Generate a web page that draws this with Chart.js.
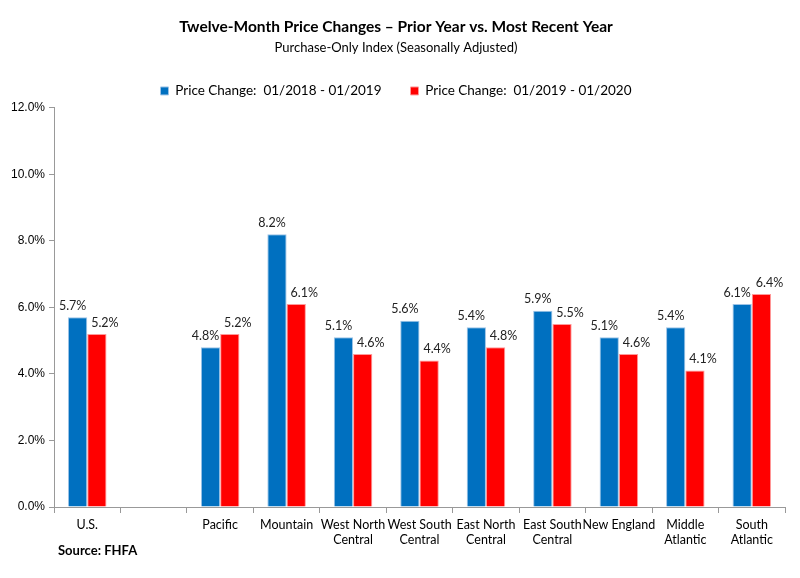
<!DOCTYPE html>
<html>
<head>
<meta charset="utf-8">
<script src="https://cdn.jsdelivr.net/npm/chart.js@4"></script>
<style>
  html, body { margin: 0; padding: 0; background: #fff; }
  #wrap { width: 800px; height: 578px; position: relative; }
</style>
</head>
<body>
<div id="wrap"><canvas id="bars"></canvas></div>
<script>
const regions = [['U.S.'], [''], ['Pacific'], ['Mountain'], ['West North', 'Central'], ['West South', 'Central'],
  ['East North', 'Central'], ['East South', 'Central'], ['New England'], ['Middle', 'Atlantic'], ['South', 'Atlantic']];
const change2019 = [5.7, null, 4.8, 8.2, 5.1, 5.6, 5.4, 5.9, 5.1, 5.4, 6.1];
const change2020 = [5.2, null, 5.2, 6.1, 4.6, 4.4, 4.8, 5.5, 4.6, 4.1, 6.4];
const yTicks = [0, 2, 4, 6, 8, 10, 12];

const calibri = 'Lato, "Open Sans", sans-serif';

// value labels above each bar, nudged left for blue and right for red
const barLabels = {
  id: 'barLabels',
  afterDatasetsDraw(chart) {
    const ctx = chart.ctx;
    ctx.save();
    ctx.font = '12.5px ' + calibri;
    ctx.fillStyle = '#222';
    ctx.textAlign = 'center';
    ctx.textBaseline = 'bottom';
    chart.data.datasets.forEach((ds, i) => {
      const shift = i === 0 ? -5 : 8;
      chart.getDatasetMeta(i).data.forEach((bar, j) => {
        if (ds.data[j] == null) return;
        ctx.fillText(ds.data[j].toFixed(1) + '%', bar.x + shift, bar.y - 5);
      });
    });
    ctx.restore();
  }
};

const sourceNote = {
  id: 'sourceNote',
  afterDraw(chart) {
    const ctx = chart.ctx;
    ctx.save();
    ctx.font = 'bold 13px ' + calibri;
    ctx.fillStyle = '#000';
    ctx.textBaseline = 'middle';
    ctx.fillText('Source: FHFA', 58, 551);
    ctx.restore();
  }
};

new Chart(document.getElementById('bars'), {
  type: 'bar',
  data: {
    labels: regions,
    datasets: [{
      label: 'Price Change:  01/2018 - 01/2019',
      data: change2019,
      backgroundColor: '#0070C0',
      borderColor: '#9DC3E6',
      borderWidth: 1
    }, {
      label: 'Price Change:  01/2019 - 01/2020',
      data: change2020,
      backgroundColor: '#FF0000',
      borderColor: '#FF9999',
      borderWidth: 1
    }]
  },
  options: {
    responsive: true,
    maintainAspectRatio: false,
    animation: false,
    layout: { padding: { left: 7, right: 15, bottom: 27 } },
    datasets: { bar: { categoryPercentage: 0.58, barPercentage: 1 } },
    plugins: {
      title: {
        display: true,
        text: 'Twelve-Month Price Changes – Prior Year vs. Most Recent Year',
        color: '#000',
        font: { family: calibri, size: 15.5, weight: 'bold' },
        padding: { top: 18, bottom: 3 }
      },
      subtitle: {
        display: true,
        text: 'Purchase-Only Index (Seasonally Adjusted)',
        color: '#000',
        font: { family: calibri, size: 13 },
        padding: { bottom: 0 }
      },
      legend: {
        labels: {
          boxWidth: 8,
          boxHeight: 8,
          padding: 29,
          color: '#000',
          font: { family: calibri, size: 13.5 }
        }
      },
      tooltip: { enabled: false }
    },
    scales: {
      x: {
        border: { color: '#999' },
        grid: { offset: true, drawOnChartArea: false, tickLength: 6, color: '#999' },
        ticks: {
          color: '#000',
          font: { family: calibri, size: 12.5 },
          padding: 4,
          maxRotation: 0,
          minRotation: 0,
          autoSkip: false
        }
      },
      y: {
        min: 0,
        max: 12,
        border: { color: '#999' },
        grid: { drawOnChartArea: false, tickLength: 5, color: '#999' },
        afterBuildTicks(axis) { axis.ticks = yTicks.map(v => ({ value: v })); },
        ticks: {
          color: '#000',
          font: { family: '"Liberation Sans", Arial, sans-serif', size: 12 },
          padding: 4,
          callback: v => v.toFixed(1) + '%'
        }
      }
    }
  },
  plugins: [barLabels, sourceNote]
});
</script>
</body>
</html>
